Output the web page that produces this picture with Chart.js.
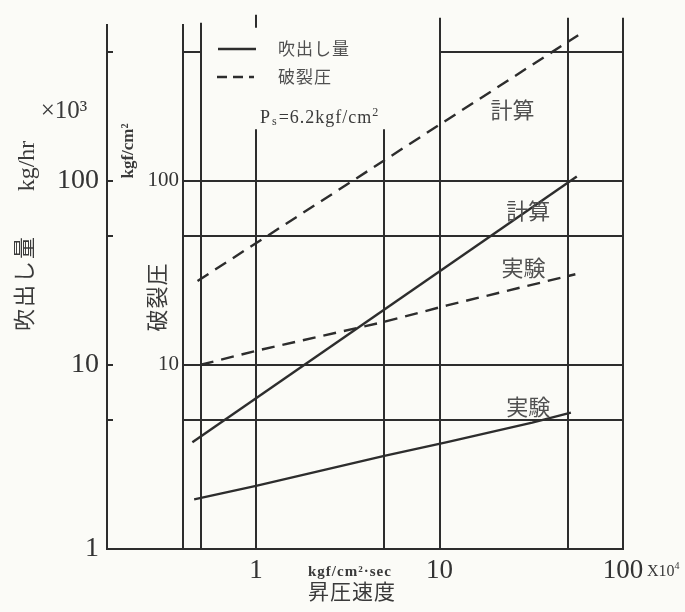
<!DOCTYPE html>
<html>
<head>
<meta charset="utf-8">
<script src="https://cdn.jsdelivr.net/npm/chart.js@4.4.1/dist/chart.umd.min.js"></script>
<style>
  html, body { margin: 0; padding: 0; background: #fbfbf7; }
  canvas { display: block; }
</style>
</head>
<body>
<canvas id="c" width="685" height="612"></canvas>
<script>
// 昇圧速度 axis (×10^4 kgf/cm²·sec)
const xTicks = [1, 10, 100];
const xGrid = [0.5, 1, 5, 10, 50, 100];
// 吹出し量 (×10^3 kg/hr) and 破裂圧 (kgf/cm²) share one log scale
const yGrid = [5, 10, 50, 100, 500];
const yOuterTicks = [1, 10, 100];
const yInnerTicks = [10, 100];
const yOuterMarks = [5, 10, 50, 100, 500];

// 吹出し量 — 計算
const flowCalcX = [0.45, 56];
const flowCalcY = [3.8, 105];
// 吹出し量 — 実験
const flowExpX = [0.46, 1, 5, 11, 32, 52];
const flowExpY = [1.86, 2.2, 3.2, 3.8, 4.85, 5.5];
// 破裂圧 — 計算
const burstCalcX = [0.48, 57];
const burstCalcY = [28.5, 615];
// 破裂圧 — 実験
const burstExpX = [0.5, 1, 5, 11, 55];
const burstExpY = [10, 11.9, 17.1, 21, 31];

// curve captions, anchored in data coordinates
const curveLabels = [
  { text: '計算', x: 25, y: 242 },
  { text: '計算', x: 30.5, y: 69 },
  { text: '実験', x: 28.7, y: 33.8 },
  { text: '実験', x: 30.5, y: 5.9 }
];
// the grid is left open above this value between 0.5 and 10 for the legend
const legendFloor = 190;

const INK = '#2d2d2d';
const TEXT = '#3a3a3a';
const SERIF = '"Liberation Serif", "DejaVu Serif", serif';
const JP = '"Noto Sans CJK JP", sans-serif';
const DASH = [13, 8];

const pts = (xs, ys) => xs.map((x, i) => ({ x, y: ys[i] }));
const series = (xs, ys, dashed) => ({
  data: pts(xs, ys),
  borderColor: INK,
  borderWidth: 2.4,
  borderDash: dashed ? DASH : [],
  pointRadius: 0,
  fill: false,
  tension: 0,
  yAxisID: 'yIn'
});

function seg(ctx, x1, y1, x2, y2) {
  ctx.beginPath();
  ctx.moveTo(x1, y1);
  ctx.lineTo(x2, y2);
  ctx.stroke();
}
function text(ctx, s, x, y, font, align = 'center', color = TEXT) {
  ctx.font = font;
  ctx.fillStyle = color;
  ctx.textAlign = align;
  ctx.textBaseline = 'middle';
  ctx.fillText(s, x, y);
}
function vtext(ctx, s, cx, cy, font, spacing = '0px') {
  ctx.save();
  ctx.translate(cx, cy);
  ctx.rotate(-Math.PI / 2);
  ctx.letterSpacing = spacing;
  text(ctx, s, 0, 0, font);
  ctx.restore();
}

const paper = {
  id: 'paper',
  beforeDraw(chart) {
    const ctx = chart.ctx;
    ctx.save();
    ctx.fillStyle = '#fbfbf7';
    ctx.fillRect(0, 0, chart.width, chart.height);
    ctx.restore();
  },
  beforeDatasetsDraw(chart) {
    const { ctx, chartArea: a } = chart;
    const xs = chart.scales.x, ys = chart.scales.yIn, yo = chart.scales.yOut;
    const X = v => Math.round(xs.getPixelForValue(v));
    const Y = v => Math.round(ys.getPixelForValue(v));
    ctx.save();
    ctx.strokeStyle = INK;
    ctx.lineWidth = 2;
    const floorPx = ys.getPixelForValue(legendFloor);
    xGrid.forEach(v => {
      const px = X(v);
      const open = v > 0.5 && v < 10;
      const top = open ? floorPx : (v >= 10 ? a.top - 7 : a.top - 2);
      seg(ctx, px, top, px, a.bottom);
    });
    // stub of the 1 line above the legend
    seg(ctx, X(1), a.top - 10, X(1), a.top + 3);
    yGrid.forEach(v => {
      const py = Y(v);
      if (v >= legendFloor) {
        seg(ctx, a.left, py, X(0.5), py);
        seg(ctx, X(10), py, a.right, py);
      } else {
        seg(ctx, a.left, py, a.right, py);
      }
    });
    // base line continues under the inner axis to the outer axis
    seg(ctx, yo.right, a.bottom, a.left, a.bottom);
    // short inward marks on the outer axis
    yOuterMarks.forEach(v => {
      const py = Y(v);
      seg(ctx, yo.right, py, yo.right + 6, py);
    });
    ctx.restore();
  },
  afterDraw(chart) {
    const { ctx } = chart;
    const xs = chart.scales.x, ys = chart.scales.yIn;
    ctx.save();

    // curve captions
    curveLabels.forEach(l => {
      text(ctx, l.text, xs.getPixelForValue(l.x), ys.getPixelForValue(l.y), '22px ' + JP, 'center', '#505050');
    });

    // legend
    ctx.strokeStyle = INK;
    ctx.lineWidth = 2.4;
    seg(ctx, 218, 49, 256, 49);
    ctx.setLineDash([10, 6]);
    seg(ctx, 217, 77, 254, 77);
    ctx.setLineDash([]);
    ctx.letterSpacing = '1px';
    text(ctx, '吹出し量', 278, 49, '17px ' + JP, 'left', '#505050');
    text(ctx, '破裂圧', 278, 77, '17px ' + JP, 'left', '#505050');

    // P_s = 6.2 kgf/cm²
    let x = 260;
    const base = 118;
    text(ctx, 'P', x, base, '18px ' + SERIF, 'left');
    x += ctx.measureText('P').width + 1;
    text(ctx, 's', x, base + 4, '12px ' + SERIF, 'left');
    x += ctx.measureText('s').width + 1;
    text(ctx, '=6.2kgf/cm', x, base, '18px ' + SERIF, 'left');
    x += ctx.measureText('=6.2kgf/cm').width;
    text(ctx, '2', x, base - 5, '12px ' + SERIF, 'left');
    ctx.letterSpacing = '0px';

    // outer axis titles
    vtext(ctx, 'kg/hr', 28, 166, '24px ' + SERIF);
    text(ctx, '×10³', 64, 111, '25px ' + SERIF);
    vtext(ctx, '吹出し量', 24, 283, '22px ' + JP, '2px');

    // inner axis titles
    vtext(ctx, 'kgf/cm²', 129, 151, 'bold 17px ' + SERIF);
    vtext(ctx, '破裂圧', 157, 297, '22px ' + JP, '1px');

    // x axis titles
    ctx.letterSpacing = '1px';
    text(ctx, 'kgf/cm²·sec', 308, 572, 'bold 15px ' + SERIF, 'left');
    text(ctx, '昇圧速度', 308, 591, '21px ' + JP, 'left');
    ctx.letterSpacing = '0px';
    text(ctx, 'X10', 647, 572, '16px ' + SERIF, 'left');
    const w = ctx.measureText('X10').width;
    text(ctx, '4', 647 + w, 566, '10px ' + SERIF, 'left');

    ctx.restore();
  }
};

const fixedTicks = list => scale => { scale.ticks = list.map(v => ({ value: v })); };

new Chart(document.getElementById('c'), {
  type: 'line',
  data: {
    datasets: [
      series(flowCalcX, flowCalcY, false),
      series(flowExpX, flowExpY, false),
      series(burstCalcX, burstCalcY, true),
      series(burstExpX, burstExpY, true)
    ]
  },
  options: {
    responsive: false,
    animation: false,
    layout: { padding: { top: 22, right: 62, bottom: 0, left: 0 } },
    plugins: { legend: { display: false }, tooltip: { enabled: false } },
    scales: {
      x: {
        type: 'logarithmic',
        position: 'bottom',
        min: 0.4,
        max: 100,
        afterBuildTicks: fixedTicks(xTicks),
        afterFit: s => { s.height = 63; },
        grid: { display: false, drawTicks: false },
        border: { display: true, color: INK, width: 2 },
        ticks: {
          autoSkip: false,
          maxRotation: 0,
          padding: 6,
          color: '#333',
          font: { family: SERIF, size: 27 },
          callback: v => String(v)
        }
      },
      yIn: {
        type: 'logarithmic',
        position: 'left',
        weight: 0,
        min: 1,
        max: 700,
        afterBuildTicks: fixedTicks(yInnerTicks),
        afterFit: s => { s.width = 76; },
        grid: { display: false, drawTicks: false },
        border: { display: true, color: INK, width: 2 },
        ticks: {
          autoSkip: false,
          padding: 4,
          color: '#333',
          font: { family: SERIF, size: 21 },
          callback: v => String(v)
        }
      },
      yOut: {
        type: 'logarithmic',
        position: 'left',
        weight: 1,
        min: 1,
        max: 700,
        afterBuildTicks: fixedTicks(yOuterTicks),
        afterFit: s => { s.width = 107; },
        grid: { display: false, drawTicks: false },
        border: { display: true, color: INK, width: 2 },
        ticks: {
          autoSkip: false,
          padding: 8,
          color: '#333',
          font: { family: SERIF, size: 28 },
          callback: v => String(v)
        }
      }
    }
  },
  plugins: [paper]
});
</script>
</body>
</html>
